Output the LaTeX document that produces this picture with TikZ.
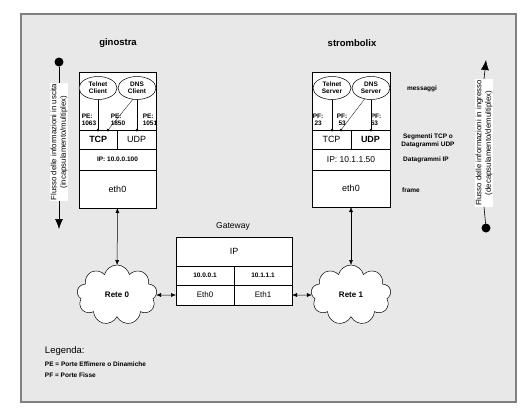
\documentclass[tikz,border=0pt]{standalone}
\usepackage{fontspec}
\setmainfont{Liberation Sans}
\usetikzlibrary{shapes.geometric, shapes.symbols, arrows.meta, positioning}

\begin{document}
\begin{tikzpicture}[
    x=1pt, y=-1pt,
    every node/.style={inner sep=0pt, outer sep=0pt, align=center, font=\fontsize{7}{8}\selectfont},
    cell/.style={rectangle, draw=black, fill=white, line width=0.6pt, anchor=north west},
    app/.style={ellipse, draw=black, fill=white, line width=0.5pt, minimum width=38, minimum height=23, font=\bfseries\fontsize{6.5}{7}\selectfont},
    small/.style={font=\bfseries\fontsize{6.5}{7.5}\selectfont},
    port/.style={circle, fill=black, minimum size=3},
    bigdot/.style={circle, fill=black, minimum size=9},
    flow/.style={rotate=90, fill=white, inner sep=1pt, font=\fontsize{7.8}{9.5}\selectfont},
    net/.style={cloud, cloud puffs=9, aspect=1.3, draw=black, fill=white, line width=0.5pt, minimum width=80, minimum height=60, font=\bfseries\fontsize{8}{9}\selectfont},
    link/.style={{Latex[length=5pt,width=4pt]}-{Latex[length=5pt,width=4pt]}, line width=0.5pt},
    flowarrow/.style={-{Latex[length=10pt,width=8pt]}, line width=0.6pt}
]
\useasboundingbox (0,0) rectangle (528,410);

% Frame
\node (frame) [rectangle, draw=black!50, fill=black!9, line width=1.3pt, minimum width=495, minimum height=388, anchor=north west] at (21,14) {};

% Host ginostra
\node (nameA) [font=\bfseries\fontsize{9.5}{10}\selectfont] at (118,43) {ginostra};
\node (appsA) [cell, minimum width=77, minimum height=58] at (79,72) {};
\node (tcpA) [cell, minimum width=38.5, minimum height=19, font=\bfseries\fontsize{9}{10}\selectfont] at (appsA.south west) {TCP};
\node (udpA) [cell, minimum width=38.5, minimum height=19, font=\fontsize{9}{10}\selectfont] at (tcpA.north east) {UDP};
\node (ipA) [cell, minimum width=77, minimum height=21, small] at (tcpA.south west) {IP: 10.0.0.100};
\node (ethA) [cell, minimum width=77, minimum height=38, font=\fontsize{9}{10}\selectfont] at (ipA.south west) {eth0};
\node (telnetA) [app] at (98,88) {Telnet\\Client};
\node (dnsA) [app] at (137,88) {DNS\\Client};
\node (pA1) [port] at (98,130) {};
\node (pA2) [port] at (108,130) {};
\node (pA3) [port] at (137,130) {};
\node (peA1) [small, align=left] at (89,120) {PE:\\1063};
\node (peA2) [small, align=left] at (118,120) {PE:\\1850};
\node (peA3) [small, align=left] at (150,120) {PE:\\1051};

% Host strombolix
\node (nameB) [font=\bfseries\fontsize{9.5}{10}\selectfont] at (352,43) {strombolix};
\node (appsB) [cell, minimum width=78, minimum height=58] at (312,72) {};
\node (tcpB) [cell, minimum width=39, minimum height=19, font=\fontsize{9}{10}\selectfont] at (appsB.south west) {TCP};
\node (udpB) [cell, minimum width=39, minimum height=19, font=\bfseries\fontsize{9}{10}\selectfont] at (tcpB.north east) {UDP};
\node (ipB) [cell, minimum width=78, minimum height=21, font=\fontsize{8.5}{9.5}\selectfont] at (tcpB.south west) {IP: 10.1.1.50};
\node (ethB) [cell, minimum width=78, minimum height=37, font=\fontsize{9}{10}\selectfont] at (ipB.south west) {eth0};
\node (telnetB) [app] at (332,88) {Telnet\\Server};
\node (dnsB) [app] at (371,88) {DNS\\Server};
\node (pB1) [port] at (332,130) {};
\node (pB2) [port] at (341,130) {};
\node (pB3) [port] at (371,130) {};
\node (pfB1) [small, align=left] at (318,120) {PF:\\\ 23};
\node (pfB2) [small, align=left] at (342,120) {PF:\\\ 53};
\node (pfB3) [small, align=left] at (376,120) {PF:\\53};

% Layer names
\node (lblMsg) [small] at (422,89) {messaggi};
\node (lblSeg) [small] at (428,141) {Segmenti TCP o\\Datagrammi UDP};
\node (lblIP) [small] at (426,160) {Datagrammi IP};
\node (lblFrame) [small] at (411,190) {frame};

% Flow arrows
\node (dotOut) [bigdot] at (59,62) {};
\node (flowOut) [flow] at (59,142) {Flusso delle informazioni in uscita\\(incapsulamento/multiplex)};
\coordinate (tipOut) at (59,229);
\node (dotIn) [bigdot] at (486,228) {};
\node (flowIn) [flow] at (484,143) {Flusso delle informazioni in ingresso\\(decapsulamento/demultiplex)};
\coordinate (tipIn) at (486,60);

% Gateway
\node (nameGw) [font=\fontsize{8.5}{9.5}\selectfont] at (233,226) {Gateway};
\node (gwIP) [cell, minimum width=116, minimum height=29, font=\fontsize{9}{10}\selectfont] at (176,237) {IP};
\node (gwAddr0) [cell, minimum width=58, minimum height=19, small] at (gwIP.south west) {10.0.0.1};
\node (gwAddr1) [cell, minimum width=58, minimum height=19, small] at (gwAddr0.north east) {10.1.1.1};
\node (gwEth0) [cell, minimum width=58, minimum height=20, font=\fontsize{8}{9}\selectfont] at (gwAddr0.south west) {Eth0};
\node (gwEth1) [cell, minimum width=58, minimum height=20, font=\fontsize{8}{9}\selectfont] at (gwAddr1.south west) {Eth1};

% Networks
\node (rete0) [net] at (117,295) {Rete 0};
\node (rete1) [net] at (351,295) {Rete 1};

% Legend
\node (legTitle) [anchor=west, font=\fontsize{9.5}{10}\selectfont] at (45,351) {Legenda:};
\node (legPE) [anchor=west, small] at (45,364) {PE = Porte Effimere o Dinamiche};
\node (legPF) [anchor=west, small] at (45,375) {PF = Porte Fisse};

% Connectors
\draw[line width=0.5pt] (telnetA) -- (pA1);
\draw[line width=0.5pt] (dnsA) -- (pA3);
\draw[line width=0.3pt] (dnsA.-110) -- (pA2);
\draw[line width=0.5pt] (telnetB) -- (pB1);
\draw[line width=0.5pt] (dnsB) -- (pB3);
\draw[line width=0.3pt] (dnsB.-120) -- (pB2);
\draw[line width=0.6pt] (dotOut) -- (flowOut.east);
\draw[flowarrow] (flowOut.west) -- (tipOut);
\draw[line width=0.6pt] (dotIn) -- (flowIn.west);
\draw[flowarrow] (flowIn.east) -- (tipIn);
\draw[link] (ethA) -- (rete0);
\draw[link] (ethB) -- (rete1);
\draw[link] (rete0) -- (gwEth0);
\draw[link] (gwEth1) -- (rete1);

\end{tikzpicture}
\end{document}
